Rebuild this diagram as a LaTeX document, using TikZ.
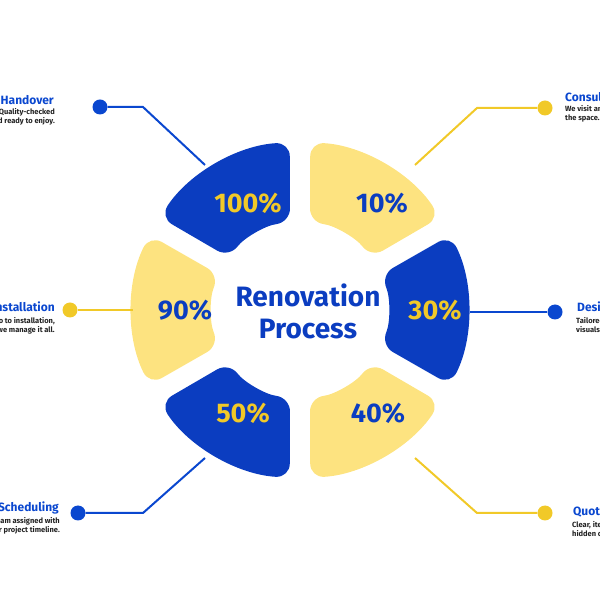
\documentclass[tikz,border=0pt]{standalone}
\usepackage{fontspec}
\setmainfont{Fira Sans}
\definecolor{bl}{HTML}{0B3DC0}
\definecolor{yl}{HTML}{FDE380}
\definecolor{dotb}{HTML}{0A47CF}
\definecolor{doty}{HTML}{F1C928}
\definecolor{tx}{HTML}{222222}
\tikzset{
 seg/.style={rounded corners=14pt},
 pct/.style={font=\bfseries\fontsize{27}{27}\selectfont},
 ttl/.style={font=\bfseries\fontsize{12}{12}\selectfont, text=dotb, inner sep=0pt},
 desc/.style={font=\bfseries\fontsize{7.5}{9.5}\selectfont, text=tx, inner sep=0pt},
 cb/.style={draw=dotb, line width=2pt},
 cy/.style={draw=doty, line width=2pt},
 dotbs/.style={circle, fill=dotb, minimum size=15pt, inner sep=0pt},
 dotys/.style={circle, fill=doty, minimum size=15pt, inner sep=0pt}
}
\newcommand{\sect}[3]{%
 \fill[#3,seg] ($(C)+(#1+3.5:168)$) arc (#1+3.5:#2-3.5:168) -- ($(C)+(#2-6.5:88)$) arc (#2-6.5:#1+6.5:88) -- cycle;}
\usetikzlibrary{calc}
\begin{document}
\begin{tikzpicture}[x=1pt,y=1pt]
\useasboundingbox (0,0) rectangle (600,600);
\clip (0,0) rectangle (600,600);
\coordinate (C) at (300,290);
\sect{90}{150}{bl}
\sect{30}{90}{yl}
\sect{-30}{30}{bl}
\sect{-90}{-30}{yl}
\sect{-150}{-90}{bl}
\sect{150}{210}{yl}
\node[pct,text=doty] (p100) at (248,397) {100\%};
\node[pct,text=bl] (p10) at (382,397) {10\%};
\node[pct,text=doty] (p30) at (435,290) {30\%};
\node[pct,text=bl] (p40) at (378,187) {40\%};
\node[pct,text=doty] (p50) at (243,187) {50\%};
\node[pct,text=bl] (p90) at (185,290) {90\%};
\node[font=\bfseries\fontsize{28}{32}\selectfont, text=bl, align=center] (ctr) at (308,289) {Renovation\\Process};
% dots
\node[dotbs] (d1) at (100,493) {};
\node[dotys] (d2) at (70,290) {};
\node[dotbs] (d3) at (78,87) {};
\node[dotys] (d4) at (545,492) {};
\node[dotbs] (d5) at (555,288) {};
\node[dotys] (d6) at (545,87) {};
\coordinate (e1) at (205,435); \coordinate (k1) at (143,493);
\coordinate (e2) at (133,290);
\coordinate (e3) at (205,142); \coordinate (k3) at (143,87);
\coordinate (e4) at (415,435); \coordinate (k4) at (477,492);
\coordinate (e5) at (470,288);
\coordinate (e6) at (415,142); \coordinate (k6) at (477,87);
\draw[cb] (d1) -- (k1) -- (e1);
\draw[cy] (d2) -- (e2);
\draw[cb] (d3) -- (k3) -- (e3);
\draw[cy] (d4) -- (k4) -- (e4);
\draw[cb] (d5) -- (e5);
\draw[cy] (d6) -- (k6) -- (e6);
% texts left
\node[ttl,anchor=east] (t1) at (54,500) {Final Handover};
\node[desc,anchor=north east,align=right] (s1) at (55,492) {Quality-checked\\and ready to enjoy.};
\node[ttl,anchor=east] (t2) at (55,292) {Expert Installation};
\node[desc,anchor=north east,align=right] (s2) at (55,283) {From demo to installation,\\we manage it all.};
\node[ttl,anchor=east] (t3) at (59,92) {Scheduling};
\node[desc,anchor=north east,align=right] (s3) at (60,83) {Team assigned with\\a clear project timeline.};
% texts right
\node[ttl,anchor=west] (t4) at (565,503) {Consultation};
\node[desc,anchor=north west,align=left] (s4) at (565,495) {We visit and assess\\the space.};
\node[ttl,anchor=west] (t5) at (577,292) {Design};
\node[desc,anchor=north west,align=left] (s5) at (576,283) {Tailored plans and\\visuals.};
\node[ttl,anchor=west] (t6) at (573,88) {Quote};
\node[desc,anchor=north west,align=left] (s6) at (572,79) {Clear, itemized quote,\\hidden costs none.};
\end{tikzpicture}
\end{document}
